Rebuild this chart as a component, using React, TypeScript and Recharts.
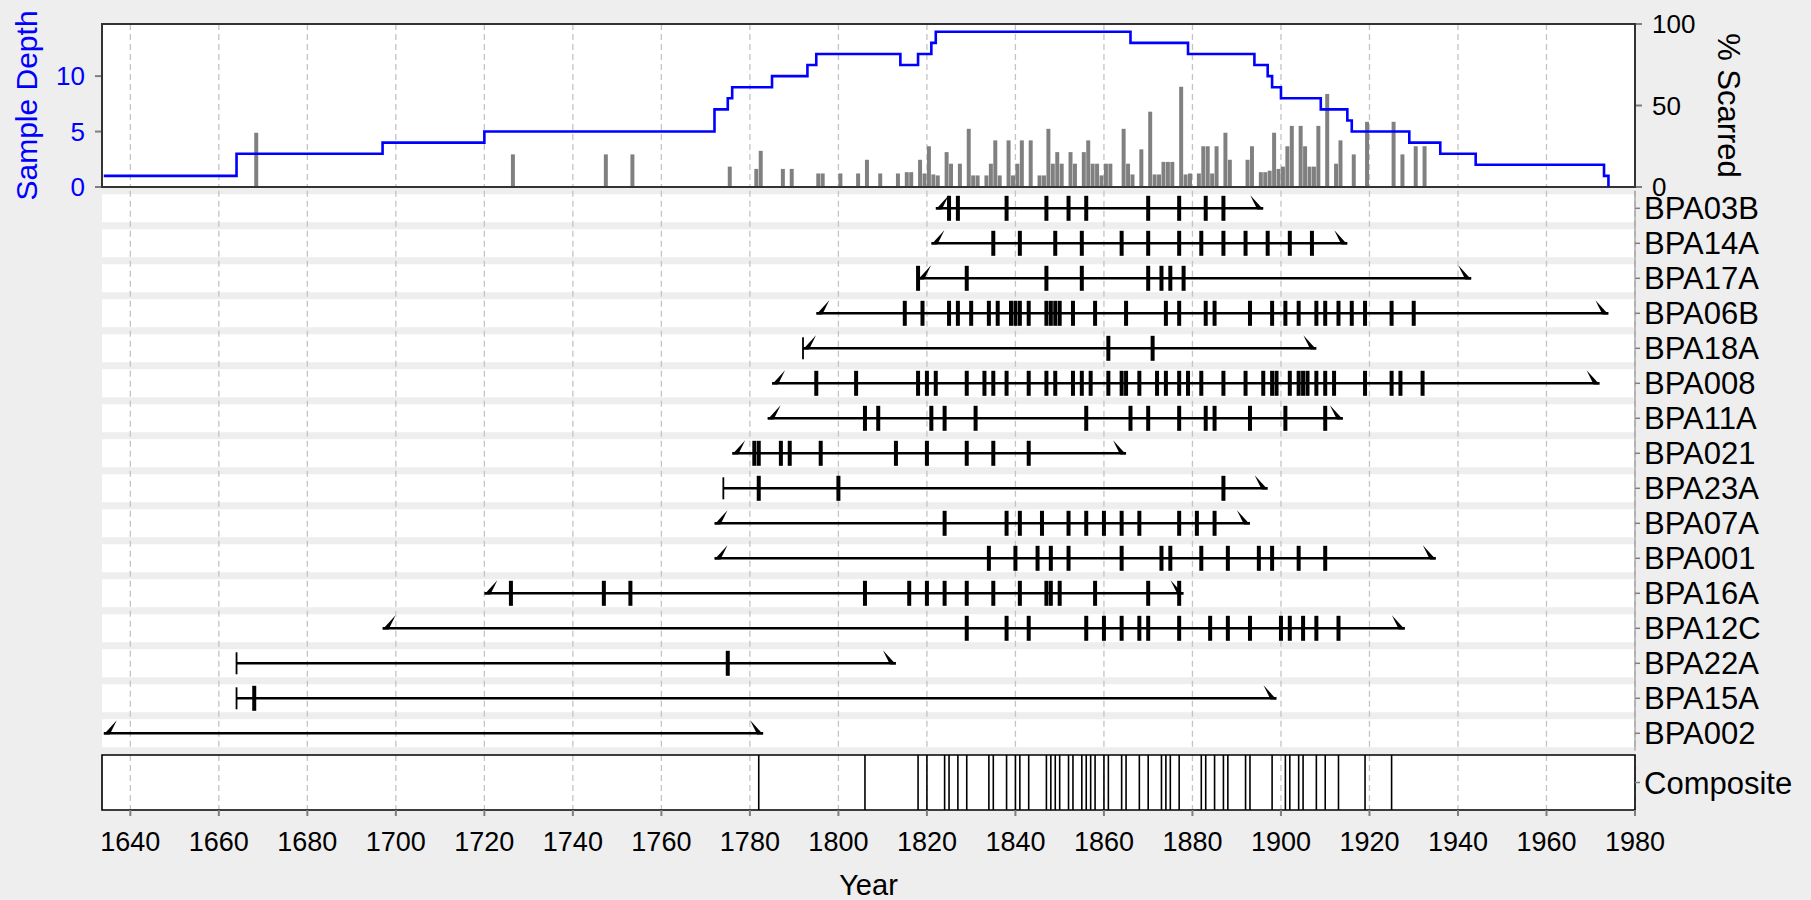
import React from 'react';
import {
  ComposedChart,
  ScatterChart,
  Bar,
  Line,
  Scatter,
  XAxis,
  YAxis,
  CartesianGrid,
  ReferenceArea,
  ReferenceLine,
} from 'recharts';

const FONT = '"Liberation Sans", Arial, Helvetica, sans-serif';
const X_DOMAIN: [number, number] = [1633.6, 1980];
const tickYears = [
  1640, 1660, 1680, 1700, 1720, 1740, 1760, 1780, 1800, 1820, 1840, 1860, 1880, 1900, 1920, 1940,
  1960, 1980,
];

// sample depth (step line): year the value starts, value
const depthYears = [
  1634, 1664, 1697, 1720, 1772, 1775, 1776, 1785, 1793, 1795, 1814, 1818, 1821, 1822, 1866, 1879,
  1894, 1897, 1898, 1900, 1909, 1915, 1916, 1929, 1936, 1944, 1973, 1974,
];
const depthValues = [1, 3, 4, 5, 7, 8, 9, 10, 11, 12, 11, 12, 13, 14, 13, 12, 11, 10, 9, 8, 7, 6, 5, 4, 3, 2, 1, 0];

// percent scarred bars
const scarPctYears = [
  1668, 1726, 1747, 1753, 1775, 1781, 1782, 1787, 1789, 1795, 1796, 1800, 1804, 1806, 1809, 1813,
  1815, 1816, 1818, 1819, 1820, 1821, 1822, 1824, 1825, 1827, 1829, 1830, 1831, 1833, 1834, 1835,
  1836, 1838, 1839, 1840, 1841, 1843, 1845, 1846, 1847, 1848, 1849, 1850, 1852, 1853, 1855, 1856,
  1857, 1858, 1859, 1860, 1861, 1864, 1865, 1866, 1868, 1870, 1871, 1872, 1873, 1874, 1875, 1877,
  1878, 1879, 1881, 1882, 1883, 1884, 1885, 1887, 1888, 1892, 1893, 1895, 1896, 1897, 1898, 1899,
  1900, 1901, 1902, 1904, 1905, 1906, 1907, 1908, 1910, 1912, 1913, 1916, 1919, 1925, 1927, 1930,
  1932,
];
const scarPctValues = [
  33.3, 20, 20, 20, 12.5, 11.1, 22.2, 11.1, 11.1, 8.3, 8.3, 8.3, 8.3, 16.7, 8.3, 8.3,
  9.1, 9.1, 16.7, 8.3, 25, 7.7, 7.1, 21.4, 14.3, 14.3, 35.7, 7.1, 7.1, 7.1, 14.3, 28.6,
  7.1, 28.6, 7.1, 14.3, 28.6, 28.6, 7.1, 7.1, 35.7, 14.3, 21.4, 14.3, 21.4, 14.3, 21.4, 28.6,
  14.3, 14.3, 7.1, 14.3, 14.3, 35.7, 14.3, 7.7, 23.1, 46.2, 7.7, 7.7, 15.4, 15.4, 15.4, 61.5,
  7.7, 8.3, 8.3, 25, 25, 8.3, 25, 33.3, 16.7, 16.7, 25, 9.1, 9.1, 10, 33.3, 11.1,
  12.5, 25, 37.5, 37.5, 25, 12.5, 12.5, 37.5, 57.1, 14.3, 28.6, 20, 40, 40, 20, 25,
  25,
];

// series, top to bottom
const seriesNames = [
  'BPA03B', 'BPA14A', 'BPA17A', 'BPA06B', 'BPA18A', 'BPA008', 'BPA11A', 'BPA021',
  'BPA23A', 'BPA07A', 'BPA001', 'BPA16A', 'BPA12C', 'BPA22A', 'BPA15A', 'BPA002',
];
const firstYears = [1822, 1821, 1818, 1795, 1792, 1785, 1784, 1776, 1774, 1772, 1772, 1720, 1697, 1664, 1664, 1634];
const lastYears = [1896, 1915, 1943, 1974, 1908, 1972, 1914, 1865, 1897, 1893, 1935, 1878, 1928, 1813, 1899, 1783];
const firstTypes = [
  'inner', 'inner', 'inner', 'inner', 'both', 'inner', 'inner', 'inner',
  'pith', 'inner', 'inner', 'inner', 'inner', 'pith', 'pith', 'inner',
];
const scarYears: number[][] = [
  [1825, 1827, 1838, 1847, 1852, 1856, 1870, 1877, 1883, 1887],
  [1835, 1841, 1849, 1855, 1864, 1870, 1877, 1882, 1887, 1892, 1897, 1902, 1907],
  [1818, 1829, 1847, 1855, 1870, 1873, 1875, 1878],
  [1815, 1819, 1825, 1827, 1830, 1834, 1836, 1839, 1840, 1841, 1843, 1847, 1848, 1849, 1850, 1853,
    1858, 1865, 1874, 1877, 1883, 1885, 1893, 1898, 1901, 1904, 1908, 1910, 1913, 1916, 1919, 1925, 1930],
  [1861, 1871],
  [1795, 1804, 1818, 1820, 1822, 1829, 1833, 1835, 1838, 1843, 1847, 1849, 1853, 1855, 1857, 1861,
    1864, 1865, 1868, 1872, 1874, 1877, 1879, 1882, 1887, 1892, 1896, 1898, 1899, 1902, 1904, 1905,
    1906, 1908, 1910, 1912, 1919, 1925, 1927, 1932],
  [1806, 1809, 1821, 1824, 1831, 1856, 1866, 1870, 1877, 1883, 1885, 1893, 1901, 1910],
  [1781, 1782, 1787, 1789, 1796, 1813, 1820, 1829, 1835, 1843],
  [1782, 1800, 1887],
  [1824, 1838, 1841, 1846, 1852, 1856, 1860, 1864, 1868, 1877, 1881, 1885],
  [1834, 1840, 1845, 1848, 1852, 1864, 1873, 1875, 1882, 1888, 1895, 1898, 1904, 1910],
  [1726, 1747, 1753, 1806, 1816, 1820, 1824, 1829, 1835, 1841, 1847, 1848, 1850, 1858, 1870, 1877],
  [1829, 1838, 1843, 1856, 1860, 1864, 1868, 1870, 1877, 1884, 1888, 1893, 1900, 1902, 1905, 1908, 1913],
  [1775],
  [1668],
  [],
];

const compositeYears = [
  1782, 1806, 1818, 1820, 1824, 1825, 1827, 1829, 1834, 1835, 1838, 1840, 1841, 1843, 1847, 1848,
  1849, 1850, 1852, 1853, 1855, 1856, 1857, 1858, 1860, 1861, 1864, 1865, 1868, 1870, 1873, 1874,
  1875, 1877, 1882, 1883, 1885, 1887, 1888, 1892, 1893, 1898, 1901, 1902, 1904, 1905, 1908, 1910,
  1913, 1919, 1925,
];

const DEPTH_MAX = 14.7;
const rowValue = (i: number) => seriesNames.length - 0.5 - i;
const rowTicks = seriesNames.map((_, i) => rowValue(i));

// bars sit on [year, year + 1]
const barData = scarPctYears.map((y, i) => ({ x: y + 0.5, pct: scarPctValues[i] }));
const depthData = depthYears.map((y, i) => ({ x: y, depth: depthValues[i] }));

const scarPoints = scarYears.flatMap((ys, i) => ys.map(y => ({ x: y, y: rowValue(i) })));
const pithPoints = firstYears
  .map((y, i) => ({ x: y, y: rowValue(i), t: firstTypes[i] }))
  .filter(p => p.t === 'pith' || p.t === 'both');
const innerPoints = firstYears
  .map((y, i) => ({ x: y, y: rowValue(i), t: firstTypes[i] }))
  .filter(p => p.t === 'inner' || p.t === 'both');
const outerPoints = lastYears.map((y, i) => ({ x: y, y: rowValue(i) }));

const GRID = '#C4C4C4';
const TICK = '#7F7F7F';

const dashedLine = (p: any) => (
  <line
    key={`v-${p.index}`}
    x1={p.x1}
    y1={p.y1}
    x2={p.x2}
    y2={p.y2}
    stroke={GRID}
    strokeWidth={1.3}
    strokeDasharray="6 4"
  />
);
const bandLine = (p: any) => (
  <line key={`h-${p.index}`} x1={p.x1} y1={p.y1} x2={p.x2} y2={p.y2} stroke="#fff" strokeWidth={28} />
);

const ScarShape = (p: any) => <rect x={p.cx - 2} y={p.cy - 12.5} width={4} height={25} fill="#000" />;
const PithShape = (p: any) => <rect x={p.cx - 0.9} y={p.cy - 11} width={1.8} height={22} fill="#000" />;
const InnerShape = (p: any) => (
  <polygon
    points={`${p.cx},${p.cy + 1.3} ${p.cx + 13},${p.cy - 13} ${p.cx + 6},${p.cy + 1.3}`}
    fill="#000"
  />
);
const OuterShape = (p: any) => (
  <polygon
    points={`${p.cx},${p.cy + 1.3} ${p.cx - 13},${p.cy - 13} ${p.cx - 6},${p.cy + 1.3}`}
    fill="#000"
  />
);

const topMargin = { top: 24, right: 66, bottom: 13, left: 22 };

export default function App() {
  return (
    <div
      style={{
        position: 'absolute',
        left: 0,
        top: 0,
        width: 1811,
        height: 900,
        background: '#EEEEEE',
        fontFamily: FONT,
        overflow: 'hidden',
      }}
    >
      {/* % scarred bars, axes */}
      <div style={{ position: 'absolute', left: 0, top: 0 }}>
        <ComposedChart width={1811} height={200} data={barData} margin={topMargin}>
          <CartesianGrid
            yAxisId="depth"
            fill="#fff"
            horizontal={false}
            vertical={dashedLine}
            verticalValues={tickYears}
          />
          <XAxis type="number" dataKey="x" domain={X_DOMAIN} allowDataOverflow hide />
          <YAxis
            yAxisId="depth"
            orientation="left"
            type="number"
            width={80}
            domain={[0, DEPTH_MAX]}
            allowDataOverflow
            ticks={[0, 5, 10]}
            interval={0}
            axisLine={false}
            tickLine={{ stroke: TICK, strokeWidth: 2 }}
            tickSize={7}
            tickMargin={10}
            tick={{ fill: '#0000FF', fontSize: 26, fontFamily: FONT }}
            label={{
              value: 'Sample Depth',
              angle: -90,
              position: 'insideLeft',
              offset: 4,
              fill: '#0000FF',
              fontSize: 30,
              fontFamily: FONT,
              style: { textAnchor: 'middle' },
            }}
          />
          <YAxis
            yAxisId="pct"
            orientation="right"
            type="number"
            width={110}
            domain={[0, 100]}
            allowDataOverflow
            ticks={[0, 50, 100]}
            interval={0}
            axisLine={false}
            tickLine={{ stroke: TICK, strokeWidth: 2 }}
            tickSize={7}
            tickMargin={10}
            tick={{ fill: '#000', fontSize: 26, fontFamily: FONT }}
            label={{
              value: '% Scarred',
              angle: 90,
              position: 'insideRight',
              offset: 16,
              fill: '#000',
              fontSize: 31,
              fontFamily: FONT,
              style: { textAnchor: 'middle' },
            }}
          />
          <Bar yAxisId="pct" dataKey="pct" fill="#808080" barSize={4.43} isAnimationActive={false} />
        </ComposedChart>
      </div>

      {/* sample depth step line + panel border */}
      <div style={{ position: 'absolute', left: 0, top: 0, pointerEvents: 'none' }}>
        <ComposedChart
          width={1811}
          height={200}
          data={depthData}
          margin={{ top: 24, right: 176, bottom: 13, left: 102 }}
        >
          <XAxis type="number" dataKey="x" domain={X_DOMAIN} allowDataOverflow hide />
          <YAxis type="number" domain={[0, DEPTH_MAX]} allowDataOverflow hide />
          <Line
            type="stepAfter"
            dataKey="depth"
            stroke="#0000FF"
            strokeWidth={2.6}
            dot={false}
            isAnimationActive={false}
          />
          <ReferenceArea
            x1={X_DOMAIN[0]}
            x2={X_DOMAIN[1]}
            y1={0}
            y2={DEPTH_MAX}
            fill="none"
            fillOpacity={0}
            stroke="#333"
            strokeWidth={2}
          />
        </ComposedChart>
      </div>

      {/* series rows */}
      <div style={{ position: 'absolute', left: 0, top: 180 }}>
        <ScatterChart width={1811} height={580} margin={{ top: 10.8, right: 6, bottom: 9.2, left: 102 }}>
          <CartesianGrid
            horizontal={bandLine}
            vertical={dashedLine}
            horizontalValues={rowTicks}
            verticalValues={tickYears}
          />
          <XAxis type="number" dataKey="x" domain={X_DOMAIN} allowDataOverflow hide />
          <YAxis
            type="number"
            dataKey="y"
            orientation="right"
            width={170}
            domain={[0, seriesNames.length]}
            allowDataOverflow
            ticks={rowTicks}
            interval={0}
            tickFormatter={(v: number) => seriesNames[Math.round(seriesNames.length - 0.5 - v)]}
            axisLine={{ stroke: '#9A9A9A', strokeWidth: 1.2 }}
            tickLine={{ stroke: TICK, strokeWidth: 1.5 }}
            tickSize={5}
            tickMargin={4}
            tick={{ fill: '#000', fontSize: 31, fontFamily: FONT }}
          />
          {seriesNames.map((n, i) => (
            <ReferenceLine
              key={n}
              segment={[
                { x: firstYears[i], y: rowValue(i) },
                { x: lastYears[i], y: rowValue(i) },
              ]}
              stroke="#000"
              strokeWidth={2.6}
            />
          ))}
          <Scatter data={scarPoints} shape={ScarShape} isAnimationActive={false} />
          <Scatter data={pithPoints} shape={PithShape} isAnimationActive={false} />
          <Scatter data={innerPoints} shape={InnerShape} isAnimationActive={false} />
          <Scatter data={outerPoints} shape={OuterShape} isAnimationActive={false} />
        </ScatterChart>
      </div>

      {/* composite + year axis */}
      <div style={{ position: 'absolute', left: 0, top: 745 }}>
        <ComposedChart
          width={1811}
          height={155}
          data={compositeYears.map(y => ({ x: y, v: 1 }))}
          margin={{ top: 10, right: 6, bottom: 0, left: 102 }}
        >
          <CartesianGrid fill="#fff" horizontal={false} vertical={dashedLine} verticalValues={tickYears} />
          <XAxis
            type="number"
            dataKey="x"
            domain={X_DOMAIN}
            allowDataOverflow
            ticks={tickYears}
            interval={0}
            height={90}
            axisLine={false}
            tickLine={{ stroke: TICK, strokeWidth: 2 }}
            tickSize={6}
            tickMargin={16}
            tick={{ fill: '#000', fontSize: 27, fontFamily: FONT }}
            label={{ value: 'Year', position: 'insideBottom', offset: 5, fill: '#000', fontSize: 29, fontFamily: FONT }}
          />
          <YAxis
            type="number"
            orientation="right"
            width={170}
            domain={[0, 1]}
            allowDataOverflow
            ticks={[0.5]}
            tickFormatter={() => 'Composite'}
            axisLine={false}
            tickLine={{ stroke: TICK, strokeWidth: 1.5 }}
            tickSize={5}
            tickMargin={4}
            tick={{ fill: '#000', fontSize: 31, fontFamily: FONT }}
          />
          {compositeYears.map(y => (
            <ReferenceLine key={y} x={y} stroke="#000" strokeWidth={1.6} />
          ))}
          <ReferenceArea
            x1={X_DOMAIN[0]}
            x2={X_DOMAIN[1]}
            y1={0}
            y2={1}
            fill="none"
            fillOpacity={0}
            stroke="#000"
            strokeWidth={1.6}
          />
        </ComposedChart>
      </div>
    </div>
  );
}
